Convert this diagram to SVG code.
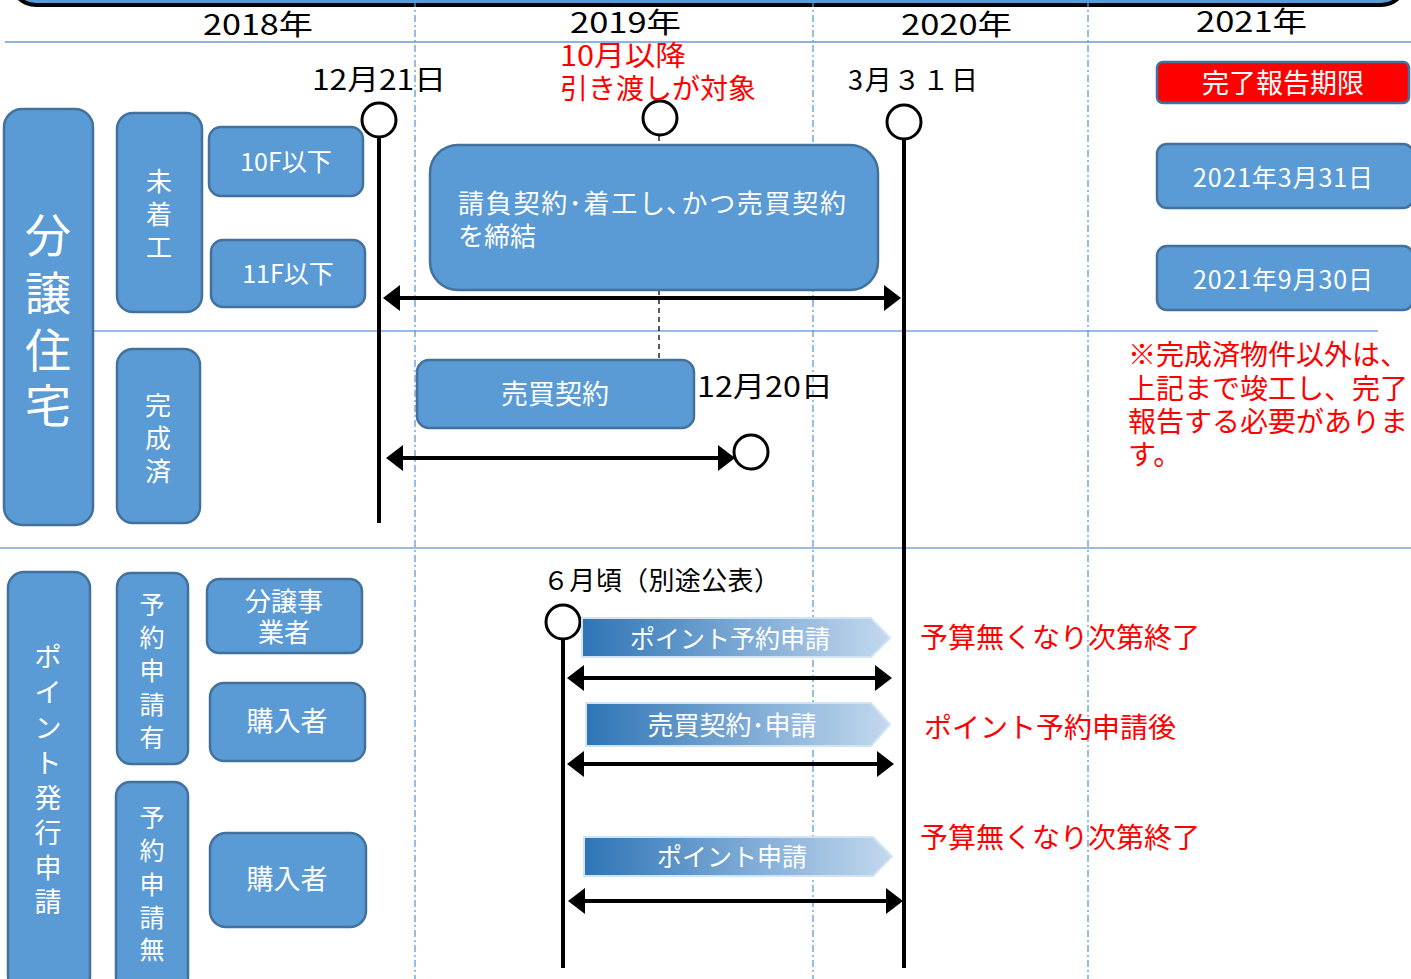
<svg xmlns="http://www.w3.org/2000/svg" width="1411" height="979" viewBox="0 0 1411 979">
<style>
.bx{fill:#5b9bd5;stroke:#41719c;stroke-width:2.5}
.wt{fill:#fff;font-family:"Noto Sans CJK JP","Noto Sans",sans-serif}
.bk{fill:#000;font-family:"Noto Sans CJK JP","Noto Sans",sans-serif}
.rd{fill:#ff0000;font-family:"Noto Sans CJK JP","Noto Sans",sans-serif}
.grid{stroke:#5b9bd5;stroke-width:1.3;stroke-dasharray:7 3 2 3;fill:none}
.hl{stroke:#8db3e2;stroke-width:2;fill:none}
.tl{stroke:#000;stroke-width:4;fill:none}
.ar{stroke:#000;stroke-width:4;fill:none;marker-start:url(#ah);marker-end:url(#ah)}
.cc{fill:#fff;stroke:#000;stroke-width:3}
.pg{fill:url(#gr);stroke:#d2e3f4;stroke-width:2}
.dl{stroke:#000;stroke-width:1.3;stroke-dasharray:5 4;fill:none}
</style>
<defs>
<marker id="ah" markerUnits="userSpaceOnUse" markerWidth="17" markerHeight="26" refX="13" refY="13" orient="auto-start-reverse"><path d="M0,0 L17,13 L0,26 z" fill="#000"/></marker>
<linearGradient id="gr" x1="0" y1="0" x2="1" y2="0"><stop offset="0" stop-color="#2e75b6"/><stop offset="1" stop-color="#c3d9ef"/></linearGradient>
</defs>
<rect width="1411" height="979" fill="#fff"/>

<g id="frame">
<rect x="12" y="-40" width="1393" height="45" rx="24" fill="#5b9bd5" stroke="#000" stroke-width="4"/>
<line class="hl" x1="5" y1="42" x2="1411" y2="42"/>
<line x1="93" y1="331" x2="1378" y2="331" stroke="#7aa6d8" stroke-width="1.5"/>
<line x1="0" y1="548" x2="1411" y2="548" stroke="#7aa6d8" stroke-width="1.5"/>
<line class="grid" x1="415" y1="0" x2="415" y2="979"/>
<line class="grid" x1="813" y1="0" x2="813" y2="979"/>
<line class="grid" x1="1088" y1="0" x2="1088" y2="979"/>
<text class="bk" x="203" y="35" font-size="28" textLength="110" lengthAdjust="spacingAndGlyphs">2018年</text>
<text class="bk" x="570" y="33" font-size="28" textLength="111" lengthAdjust="spacingAndGlyphs">2019年</text>
<text class="bk" x="901" y="35" font-size="28" textLength="111" lengthAdjust="spacingAndGlyphs">2020年</text>
<text class="bk" x="1196" y="32" font-size="28" textLength="111" lengthAdjust="spacingAndGlyphs">2021年</text>
</g>

<g id="bunjo-jutaku">
<rect class="bx" x="4" y="109" width="89" height="416" rx="18"/>
<text class="wt" font-size="46" text-anchor="middle"><tspan x="48" y="252">分</tspan><tspan x="48" y="310">譲</tspan><tspan x="48" y="367">住</tspan><tspan x="48" y="422">宅</tspan></text>
</g>
<g id="michakko">
<rect class="bx" x="117" y="113" width="85" height="199" rx="16"/>
<text class="wt" font-size="26" text-anchor="middle"><tspan x="159" y="191">未</tspan><tspan x="159" y="224">着</tspan><tspan x="159" y="257">工</tspan></text>
</g>
<g id="f10">
<rect class="bx" x="209" y="127" width="154" height="69" rx="12"/>
<text class="wt" x="286" y="171" font-size="25" text-anchor="middle">10F以下</text>
</g>
<g id="f11">
<rect class="bx" x="211" y="240" width="154" height="67" rx="12"/>
<text class="wt" x="288" y="283" font-size="25" text-anchor="middle">11F以下</text>
</g>
<g id="kanseizumi">
<rect class="bx" x="117" y="349" width="83" height="174" rx="16"/>
<text class="wt" font-size="26" text-anchor="middle"><tspan x="158" y="415">完</tspan><tspan x="158" y="448">成</tspan><tspan x="158" y="481">済</tspan></text>
</g>

<g id="connectors">
<line class="dl" x1="659" y1="136" x2="659" y2="146"/>
<line class="dl" x1="659" y1="290" x2="659" y2="358"/>
<line class="tl" x1="379" y1="137" x2="379" y2="523"/>
<line class="tl" x1="904" y1="139" x2="904" y2="968"/>
<line class="tl" x1="563" y1="639" x2="563" y2="968"/>
<line class="ar" x1="387" y1="298" x2="897" y2="298"/>
<line class="ar" x1="390" y1="458" x2="731" y2="458"/>
<line class="ar" x1="571" y1="678" x2="888" y2="678"/>
<line class="ar" x1="571" y1="764" x2="890" y2="764"/>
<line class="ar" x1="572" y1="901" x2="899" y2="901"/>
<circle class="cc" cx="379" cy="120" r="17"/>
<circle class="cc" cx="660" cy="118" r="17"/>
<circle class="cc" cx="904" cy="122" r="17"/>
<circle class="cc" cx="751" cy="452" r="17"/>
<circle class="cc" cx="563" cy="622" r="17"/>
</g>

<g id="ukeoi">
<rect class="bx" x="430" y="145" width="448" height="145" rx="28"/>
<text class="wt" x="458" y="213" font-size="26" textLength="388">請負契約･着工し､かつ売買契約</text>
<text class="wt" x="458" y="246" font-size="26">を締結</text>
</g>
<g id="baibai">
<rect class="bx" x="417" y="360" width="277" height="68" rx="12"/>
<text class="wt" x="555" y="404" font-size="27" text-anchor="middle">売買契約</text>
</g>
<g id="kigen">
<rect x="1157" y="62" width="252" height="41" rx="6" fill="#ff0000" stroke="#41719c" stroke-width="2.5"/>
<text class="wt" x="1283" y="93" font-size="27" text-anchor="middle">完了報告期限</text>
</g>
<g id="d20210331">
<rect class="bx" x="1157" y="144" width="256" height="64" rx="10"/>
<text class="wt" x="1283" y="187" font-size="25" text-anchor="middle" textLength="180">2021年3月31日</text>
</g>
<g id="d20210930">
<rect class="bx" x="1157" y="246" width="256" height="64" rx="10"/>
<text class="wt" x="1283" y="289" font-size="25" text-anchor="middle" textLength="180">2021年9月30日</text>
</g>

<g id="point-hakko">
<rect class="bx" x="8" y="572" width="82" height="420" rx="16"/>
<text class="wt" font-size="27" text-anchor="middle"><tspan x="48" y="667">ポ</tspan><tspan x="48" y="702">イ</tspan><tspan x="48" y="738">ン</tspan><tspan x="48" y="773">ト</tspan><tspan x="48" y="808">発</tspan><tspan x="48" y="843">行</tspan><tspan x="48" y="878">申</tspan><tspan x="48" y="912">請</tspan></text>
</g>
<g id="yoyaku-ari">
<rect class="bx" x="117" y="573" width="71" height="191" rx="14"/>
<text class="wt" font-size="25" text-anchor="middle"><tspan x="152" y="614">予</tspan><tspan x="152" y="647">約</tspan><tspan x="152" y="680">申</tspan><tspan x="152" y="714">請</tspan><tspan x="152" y="747">有</tspan></text>
</g>
<g id="yoyaku-nashi">
<rect class="bx" x="116" y="782" width="72" height="210" rx="14"/>
<text class="wt" font-size="25" text-anchor="middle"><tspan x="152" y="827">予</tspan><tspan x="152" y="860">約</tspan><tspan x="152" y="894">申</tspan><tspan x="152" y="927">請</tspan><tspan x="152" y="959">無</tspan></text>
</g>
<g id="bunjo-jigyosha">
<rect class="bx" x="207" y="579" width="155" height="74" rx="12"/>
<text class="wt" font-size="26" text-anchor="middle"><tspan x="284" y="611">分譲事</tspan><tspan x="284" y="642">業者</tspan></text>
</g>
<g id="konyusha1">
<rect class="bx" x="210" y="683" width="155" height="78" rx="14"/>
<text class="wt" x="287" y="731" font-size="27" text-anchor="middle">購入者</text>
</g>
<g id="konyusha2">
<rect class="bx" x="210" y="833" width="156" height="94" rx="16"/>
<text class="wt" x="287" y="889" font-size="27" text-anchor="middle">購入者</text>
</g>

<g id="point-yoyaku">
<path class="pg" d="M582,618 L871,618 L890,638 L871,657 L582,657 z"/>
<text class="wt" x="730" y="648" font-size="25" text-anchor="middle">ポイント予約申請</text>
</g>
<g id="baibai-shinsei">
<path class="pg" d="M586,703 L871,703 L890,724.5 L871,746 L586,746 z"/>
<text class="wt" x="732" y="735" font-size="26" text-anchor="middle">売買契約･申請</text>
</g>
<g id="point-shinsei">
<path class="pg" d="M584,837 L873,837 L892,856.5 L873,876 L584,876 z"/>
<text class="wt" x="732" y="866" font-size="25" text-anchor="middle">ポイント申請</text>
</g>

<g id="labels">
<text class="bk" x="312" y="90" font-size="28" textLength="134" lengthAdjust="spacingAndGlyphs">12月21日</text>
<text class="rd" x="560" y="66" font-size="28" textLength="126" lengthAdjust="spacingAndGlyphs">10月以降</text>
<text class="rd" x="560" y="99" font-size="28">引き渡しが対象</text>
<text class="bk" x="848" y="90" font-size="27" textLength="130">3月３１日</text>
<text class="bk" x="697" y="397" font-size="28" textLength="136" lengthAdjust="spacingAndGlyphs">12月20日</text>
<text class="bk" x="543" y="590" font-size="26" textLength="237">６月頃（別途公表）</text>
<text class="rd" font-size="28"><tspan x="1128" y="365">※完成済物件以外は、</tspan><tspan x="1128" y="399">上記まで竣工し、完了</tspan><tspan x="1128" y="432">報告する必要がありま</tspan><tspan x="1128" y="465">す。</tspan></text>
<text class="rd" x="920" y="648" font-size="28">予算無くなり次第終了</text>
<text class="rd" x="924" y="738" font-size="28">ポイント予約申請後</text>
<text class="rd" x="920" y="848" font-size="28">予算無くなり次第終了</text>
</g>
</svg>
